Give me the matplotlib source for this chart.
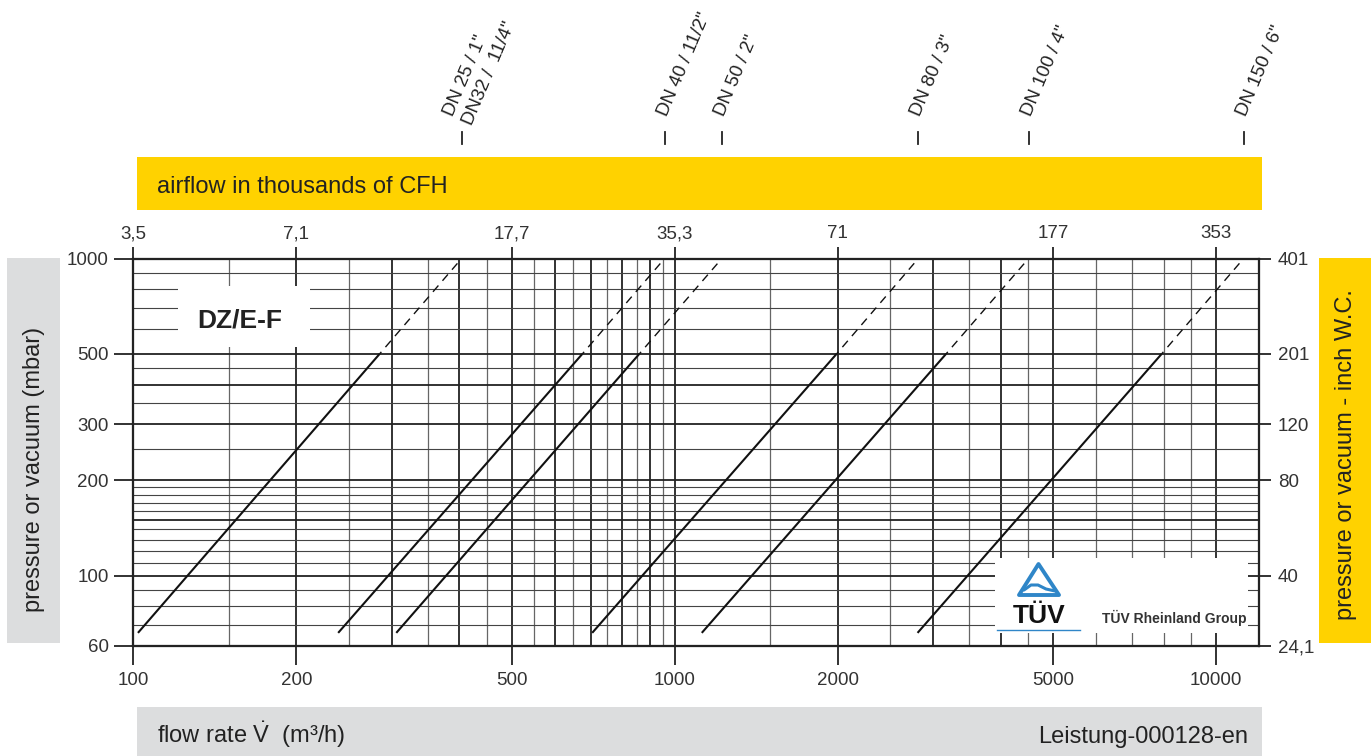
import numpy as np
import matplotlib.pyplot as plt
import matplotlib.transforms as mtransforms
from matplotlib.patches import Rectangle, Polygon
from matplotlib.lines import Line2D

plt.rcParams['font.family'] = ['Liberation Sans', 'DejaVu Sans']
plt.rcParams['mathtext.fontset'] = 'custom'
plt.rcParams['mathtext.rm'] = 'Liberation Sans'
plt.rcParams['mathtext.it'] = 'Liberation Sans:italic'
plt.rcParams['mathtext.bf'] = 'Liberation Sans:bold'

# ---- data ----
# flow (m3/h) of each size line: at the start, where solid turns dashed, at 1000 mbar
q_start = [102, 239, 306, 704, 1122, 2809]
q_split = [285, 675, 860, 1990, 3170, 7930]
q_end = [404, 958, 1222, 2818, 4504, 11240]
p_start = 66
p_split = 500
p_end = 1000
dn_labels = ['DN 25 / 1"\nDN32 /  11/4"', 'DN 40 / 11/2"', 'DN 50 / 2"',
             'DN 80 / 3"', 'DN 100 / 4"', 'DN 150 / 6"']

x_ticks = [100, 200, 500, 1000, 2000, 5000, 10000]
cfh_labels = ['3,5', '7,1', '17,7', '35,3', '71', '177', '353']
p_ticks = [60, 100, 200, 300, 500, 1000]
wc_labels = ['24,1', '40', '80', '120', '201', '401']

grid_x_major = [200, 300, 400, 500, 600, 700, 800, 900, 1000, 2000, 3000, 4000, 5000, 10000]
grid_x_minor = [150, 250, 350, 450, 550, 650, 750, 850, 950, 1500, 2500, 3500, 4500,
                6000, 7000, 8000, 9000]
grid_y_major = [100, 150, 200, 300, 400, 500]
grid_y_minor = [70, 80, 90, 110, 120, 130, 140, 160, 170, 180, 190, 250, 350, 450,
                600, 700, 800, 900]

yellow = '#FFD200'
grey = '#DCDDDE'
ink = '#222222'

W, H = 1371, 756
fig = plt.figure(figsize=(W / 100, H / 100), dpi=100)

def fx(px):
    return px / W

def fy(py):
    return 1 - py / H

# coloured bands
fig.add_artist(Rectangle((fx(137), fy(210)), (1262 - 137) / W, (210 - 157.3) / H,
                         transform=fig.transFigure, fc=yellow, ec='none', zorder=0))
fig.add_artist(Rectangle((fx(7.3), fy(643.3)), (60 - 7.3) / W, (643.3 - 258.3) / H,
                         transform=fig.transFigure, fc=grey, ec='none', zorder=0))
fig.add_artist(Rectangle((fx(1319), fy(643.3)), (1371 - 1319) / W, (643.3 - 258.3) / H,
                         transform=fig.transFigure, fc=yellow, ec='none', zorder=0))
fig.add_artist(Rectangle((fx(137), 0), (1262 - 137) / W, (756 - 707.3) / H,
                         transform=fig.transFigure, fc=grey, ec='none', zorder=0))

fig.text(fx(157), fy(193.3), 'airflow in thousands of CFH', fontsize=17, va='baseline', color=ink)
fig.text(fx(157), fy(742.7), r'flow rate $\dot{\mathrm{V}}$  (m³/h)', fontsize=17, va='baseline', color=ink)
fig.text(fx(1248), fy(742.7), 'Leistung-000128-en', fontsize=17, va='baseline', ha='right', color=ink)
fig.text(fx(34), fy(469), 'pressure or vacuum (mbar)', fontsize=17, rotation=90,
         ha='center', va='center', color=ink)
fig.text(fx(1346), fy(455), 'pressure or vacuum - inch W.C.', fontsize=17, rotation=90,
         ha='center', va='center', color=ink)

# main chart
ax = fig.add_axes([fx(133.3), fy(646), (1259 - 133.3) / W, (646 - 258.5) / H])
ax.set_xscale('log')
ax.set_yscale('log')
ax.set_xlim(100, 12000)
ax.set_ylim(60, 1000)

for v in grid_x_major:
    ax.axvline(v, color=ink, lw=1.3, zorder=1)
for v in grid_x_minor:
    ax.axvline(v, color='#666666', lw=0.9, zorder=1)
for v in grid_y_major:
    ax.axhline(v, color=ink, lw=1.3, zorder=1)
for v in grid_y_minor:
    ax.axhline(v, color='#444444', lw=0.8, zorder=1)

for i in range(len(q_start)):
    ax.plot([q_start[i], q_split[i]], [p_start, p_split], color='#111111', lw=1.5,
            solid_capstyle='butt', zorder=3)
    ax.plot([q_split[i], q_end[i]], [p_split, p_end], color='#111111', lw=1.0,
            ls=(4, (6, 4.5)), zorder=3)

# DZ/E-F label box
ax.add_patch(Rectangle((0.0394, 0.7724), 0.1176, 0.1574, transform=ax.transAxes,
                       fc='white', ec='none', zorder=2))
ax.text(0.0948, 0.8225, 'DZ/E-F', transform=ax.transAxes, ha='center', va='baseline',
        fontsize=19, fontweight='bold', color=ink, zorder=3)

ax.set_xticks(x_ticks, labels=[str(v) for v in x_ticks])
ax.set_yticks(p_ticks, labels=[str(v) for v in p_ticks])
ax.minorticks_off()
ax.tick_params(axis='both', direction='out', length=13.7, width=1.3, color=ink,
               labelsize=13.5, labelcolor='#333333')
ax.tick_params(axis='x', pad=5)
ax.tick_params(axis='y', pad=4)
for s in ax.spines.values():
    s.set_linewidth(1.5)
    s.set_color(ink)

ax_top = ax.twiny()
ax_top.set_xscale('log')
ax_top.set_xlim(100, 12000)
ax_top.set_xticks(x_ticks, labels=cfh_labels)
ax_top.minorticks_off()
ax_top.tick_params(axis='x', direction='out', length=8.6, width=1.3, color=ink,
                   labelsize=13.5, labelcolor='#333333', pad=3)

ax_r = ax.twinx()
ax_r.set_yscale('log')
ax_r.set_ylim(60, 1000)
ax_r.set_yticks(p_ticks, labels=wc_labels)
ax_r.minorticks_off()
ax_r.tick_params(axis='y', direction='out', length=8.6, width=1.3, color=ink,
                 labelsize=13.5, labelcolor='#333333', pad=5)
for a in (ax_top, ax_r):
    for s in a.spines.values():
        s.set_linewidth(1.5)
        s.set_color(ink)

# DN size markers above the chart
blend = mtransforms.blended_transform_factory(ax.transData, fig.transFigure)
for q, lab in zip(q_end, dn_labels):
    fig.add_artist(Line2D([q, q], [fy(131.7), fy(144)], transform=blend, color=ink, lw=1.3))
    two_rows = '\n' in lab
    dx = 7 if two_rows else 2
    y0 = 124 if two_rows else 117
    tr = mtransforms.offset_copy(blend, fig=fig, x=dx, y=0, units='dots')
    fig.text(q, fy(y0), lab, transform=tr, rotation=67, rotation_mode='anchor',
             ha='left', va='baseline', fontsize=13.5, color=ink, linespacing=1.3)

# TUV logo box
lg = fig.add_axes([fx(995), fy(633), (1248 - 995) / W, (633 - 558) / H])
lg.set_xlim(995, 1248)
lg.set_ylim(633, 558)
lg.set_facecolor('white')
lg.set_xticks([])
lg.set_yticks([])
for s in lg.spines.values():
    s.set_visible(False)
blue = '#2F86C8'
lg.add_patch(Polygon([(1038.5, 564), (1019, 595), (1059, 595)], closed=True, fill=False,
                     ec=blue, lw=2.8, joinstyle='round'))
lg.plot([1024, 1031, 1038, 1046, 1055], [590, 585, 585, 589, 591], color=blue, lw=2.2,
        solid_capstyle='round')
lg.text(1039, 623, 'TÜV', ha='center', va='baseline', fontsize=19, fontweight='bold', color='#111111')
lg.plot([997, 1080], [630, 630], color=blue, lw=1.0)
lg.text(1102, 623, 'TÜV Rheinland Group', ha='left', va='baseline', fontsize=10,
        fontweight='bold', color='#333333')

fig.savefig('out.png', dpi=100)
